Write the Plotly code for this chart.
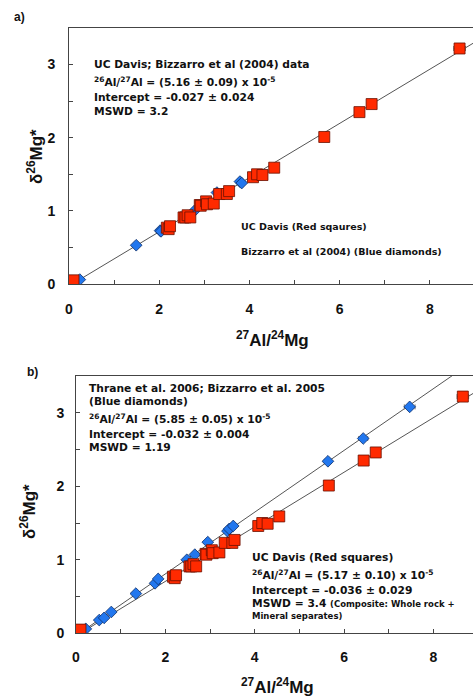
import plotly.graph_objects as go

# ---------------- data ----------------
# UC Davis (red squares) - same data in both panels
ucd_x = [0.10, 2.17, 2.21, 2.24, 2.54, 2.58, 2.63, 2.69, 2.90, 2.92, 3.04, 3.06,
         3.21, 3.33, 3.50, 3.55, 4.08, 4.17, 4.29, 4.55, 5.66, 6.44, 6.71, 8.66]
ucd_y = [0.05, 0.77, 0.75, 0.79, 0.91, 0.91, 0.94, 0.91, 1.08, 1.07, 1.13, 1.09,
         1.10, 1.23, 1.23, 1.27, 1.46, 1.50, 1.49, 1.59, 2.01, 2.35, 2.46, 3.22]
ucd_xerr = [0.01, 0.03, 0.03, 0.03, 0.03, 0.03, 0.03, 0.03, 0.04, 0.04, 0.04, 0.04,
            0.04, 0.04, 0.05, 0.05, 0.05, 0.05, 0.05, 0.06, 0.08, 0.10, 0.10, 0.13]

# Bizzarro et al (2004) (blue diamonds) - panel a
biz04_x = [0.24, 1.49, 2.02, 2.04, 2.78, 3.28, 3.79, 3.83]
biz04_y = [0.06, 0.53, 0.73, 0.72, 1.00, 1.25, 1.40, 1.38]

# Thrane et al. 2006; Bizzarro et al. 2005 (blue diamonds) - panel b
thr_x = [0.09, 0.22, 0.52, 0.63, 0.79, 1.34, 1.77, 1.84, 2.48, 2.66, 2.95,
         3.39, 3.43, 3.52, 5.64, 6.43, 7.47]
thr_y = [0.01, 0.06, 0.18, 0.21, 0.29, 0.54, 0.68, 0.74, 1.00, 1.07, 1.24,
         1.39, 1.42, 1.46, 2.34, 2.65, 3.08]
thr_xerr = [0.01, 0.01, 0.01, 0.01, 0.02, 0.02, 0.03, 0.03, 0.03, 0.03, 0.04,
            0.04, 0.04, 0.05, 0.08, 0.10, 0.12]

# isochron fits: (26Al/27Al x 1e5, intercept)
fit_a = (5.16, -0.027)
fit_b_blue = (5.85, -0.032)
fit_b_red = (5.17, -0.036)
MG_RATIO = 0.13932  # 26Mg/24Mg reference
line_x = [0.05, 9.6]

x_ticks = [0, 2, 4, 6, 8]
y_ticks = [0, 1, 2, 3]

W, H = 473, 696

def slope(r):
    return r * 1e-5 / MG_RATIO * 1000.0

def fit_y(fit):
    s = slope(fit[0])
    return [s * xx + fit[1] for xx in line_x]

RED = "#ff2a00"
RED_LINE = "#6a1000"
BLUE = "#2277ee"
BLUE_LINE = "#0c2f6a"
LINE_GREY = "#555555"
ERR_GREY = "#777777"

fig = go.Figure()

def add_panel(xa, ya, blue_x, blue_y, blue_err, fits):
    for f in fits:
        fig.add_trace(go.Scatter(x=line_x, y=fit_y(f), mode="lines",
                                 line=dict(color=LINE_GREY, width=1),
                                 xaxis=xa, yaxis=ya, showlegend=False, hoverinfo="skip"))
    fig.add_trace(go.Scatter(
        x=blue_x, y=blue_y, mode="markers", xaxis=xa, yaxis=ya, showlegend=False,
        marker=dict(symbol="diamond", size=9, color=BLUE, line=dict(color=BLUE_LINE, width=0.8)),
        error_x=dict(type="data", array=blue_err, color=ERR_GREY, thickness=1, width=2.5)
        if blue_err is not None else None))
    fig.add_trace(go.Scatter(
        x=ucd_x, y=ucd_y, mode="markers", xaxis=xa, yaxis=ya, showlegend=False,
        marker=dict(symbol="square", size=11, color=RED, line=dict(color=RED_LINE, width=0.8)),
        error_x=dict(type="data", array=ucd_xerr, color=ERR_GREY, thickness=1, width=2.5)))

add_panel("x", "y", biz04_x, biz04_y, None, [fit_a])
add_panel("x2", "y2", thr_x, thr_y, thr_xerr, [fit_b_blue, fit_b_red])

def xaxis_cfg(left_px, xscale, standoff):
    return dict(domain=[left_px / W, 1.0], range=[0, (W - left_px) / xscale],
                tickvals=x_ticks, ticktext=[str(v) for v in x_ticks],
                ticks="inside", ticklen=4, tickcolor="#444",
                minor=dict(dtick=1, ticks="inside", ticklen=4, tickcolor="#444"),
                showline=True, linecolor="#444", linewidth=1, mirror=True,
                showgrid=False, zeroline=False, automargin=False,
                tickfont=dict(family="Liberation Sans", size=14, color="#111", weight="bold"),
                ticklabelstandoff=standoff)

def yaxis_cfg(bottom_px, top_px, standoff):
    return dict(domain=[1 - bottom_px / H, 1 - top_px / H], range=[0, 3.5],
                tickvals=y_ticks, ticktext=[str(v) for v in y_ticks],
                ticks="inside", ticklen=4, tickcolor="#444",
                minor=dict(dtick=0.5, ticks="inside", ticklen=4, tickcolor="#444"),
                showline=True, linecolor="#444", linewidth=1, mirror=False,
                showgrid=False, zeroline=False, automargin=False,
                tickfont=dict(family="Liberation Sans", size=14, color="#111", weight="bold"),
                ticklabelstandoff=standoff)

fig.update_layout(
    width=W, height=H, margin=dict(l=0, r=0, t=0, b=0, pad=0),
    paper_bgcolor="white", plot_bgcolor="white",
    xaxis=xaxis_cfg(69, 45.1, 12), yaxis=yaxis_cfg(284, 28, 10),
    xaxis2=xaxis_cfg(76, 44.67, 11), yaxis2=yaxis_cfg(633.3, 376, 8),
)
fig.update_layout(xaxis2=dict(anchor="y2"), yaxis2=dict(anchor="x2"))

TXT = "DejaVu Sans"

def ann(text, x, y, size=10.7, xanchor="left", family=TXT, angle=0):
    fig.add_annotation(text=text, x=x / W, y=1 - y / H, xref="paper", yref="paper",
                       xanchor=xanchor, yanchor="middle", showarrow=False, textangle=angle,
                       font=dict(family=family, size=size, color="#111", weight="bold"))

# panel labels
ann("a)", 12, 17, size=12, family="Liberation Sans")
ann("b)", 25, 372, size=12, family="Liberation Sans")

# panel a texts
ann("UC Davis; Bizzarro et al (2004) data", 92, 64)
ann("<sup>26</sup>Al/<sup>27</sup>Al = (5.16 ± 0.09) x 10<sup>-5</sup>", 92, 82)
ann("Intercept = -0.027 ± 0.024", 92, 97)
ann("MSWD = 3.2", 92, 111)
ann("UC Davis (Red sqaures)", 239, 227, size=9.5)
ann("Bizzarro et al (2004) (Blue diamonds)", 239, 252, size=9.5)

# panel b texts
ann("Thrane et al. 2006; Bizzarro et al. 2005", 87, 388)
ann("(Blue diamonds)", 87, 401)
ann("<sup>26</sup>Al/<sup>27</sup>Al = (5.85 ± 0.05) x 10<sup>-5</sup>", 87, 419)
ann("Intercept = -0.032 ± 0.004", 87, 434)
ann("MSWD = 1.19", 87, 447)
ann("UC Davis (Red squares)", 250, 557)
ann("<sup>26</sup>Al/<sup>27</sup>Al = (5.17 ± 0.10) x 10<sup>-5</sup>", 250, 575)
ann("Intercept = -0.036 ± 0.029", 250, 590)
ann("MSWD = 3.4 <span style='font-size:8.5px'>(Composite: Whole rock +</span>", 250, 603)
ann("Mineral separates)", 250, 616, size=8.5)

# axis titles
ann("δ<sup>26</sup>Mg*", 35, 157, size=17, xanchor="center", family="Liberation Sans", angle=-90)
ann("<sup>27</sup>Al/<sup>24</sup>Mg", 272, 339, size=17, xanchor="center", family="Liberation Sans")
ann("δ<sup>26</sup>Mg*", 28, 512, size=17, xanchor="center", family="Liberation Sans", angle=-90)
ann("<sup>27</sup>Al/<sup>24</sup>Mg", 277, 686, size=17, xanchor="center", family="Liberation Sans")

fig.write_html("out.html", config={"displayModeBar": False},
               post_script="document.body.style.margin='0';document.body.style.overflow='hidden';")
